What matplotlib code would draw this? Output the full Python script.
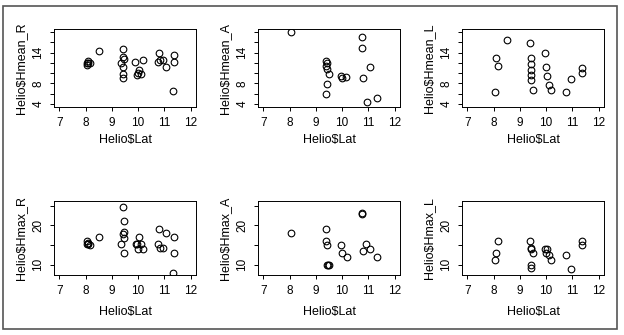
import matplotlib
matplotlib.use("Agg")
import matplotlib.pyplot as plt
from matplotlib.patches import Rectangle

plt.rcParams['font.family'] = ['Liberation Sans', 'DejaVu Sans']

# Helio$Hmean_* vs Helio$Lat
lat_mean_R = [8.05, 8.1, 8.15, 8.05, 8.1, 8.53, 9.42, 9.42, 9.45, 9.35, 9.42, 9.42, 9.42,
              9.89, 10.18, 10.05, 10.0, 9.95, 10.1, 10.78, 10.74, 10.84, 10.94, 11.05,
              11.35, 11.35, 11.33]
hmean_R = [11.5, 12.3, 11.9, 11.9, 12.0, 14.3, 14.6, 13.2, 12.7, 12.0, 11.2, 9.9, 9.0,
           12.2, 12.5, 10.6, 10.1, 9.6, 9.8, 13.9, 12.1, 12.5, 12.6, 11.2, 13.5, 12.2, 6.6]

lat_mean_A = [8.04, 10.77, 10.75, 11.05, 10.8, 10.95, 11.33, 9.4, 9.42, 9.4, 9.42, 9.5,
              9.43, 9.4, 9.94, 10.01, 10.16]
hmean_A = [17.9, 17.0, 14.9, 11.1, 9.0, 4.45, 5.2, 12.3, 11.9, 11.4, 10.9, 9.9, 7.9, 5.9,
           9.5, 9.1, 9.2]

lat_mean_L = [8.53, 8.08, 8.17, 8.04, 9.39, 9.43, 9.43, 9.42, 9.44, 9.42, 9.5, 9.95, 10.0,
              10.05, 10.1, 10.17, 10.74, 10.94, 11.35, 11.35]
hmean_L = [16.4, 13.0, 11.3, 6.3, 15.9, 13.0, 11.7, 10.6, 9.7, 8.6, 6.8, 13.9, 11.1, 9.4,
           7.7, 6.8, 6.3, 8.9, 11.0, 10.1]

# Helio$Hmax_* vs Helio$Lat
lat_max_R = [8.05, 8.1, 8.15, 8.05, 8.1, 8.53, 9.42, 9.45, 9.45, 9.42, 9.45, 9.35, 9.45,
             9.9, 9.97, 10.05, 10.1, 10.0, 10.18, 10.8, 11.05, 10.74, 10.84, 10.94, 11.35,
             11.35, 11.33]
hmax_R = [16.0, 15.6, 15.1, 15.2, 15.4, 17.0, 24.7, 21.1, 18.2, 17.9, 16.9, 15.2, 13.1,
          15.4, 15.3, 17.0, 15.3, 14.1, 14.1, 19.1, 18.1, 15.2, 14.2, 14.2, 17.0, 13.1, 8.0]

lat_max_A = [8.04, 10.76, 10.77, 9.4, 9.4, 9.43, 9.42, 9.47, 9.5, 9.95, 10.01, 10.19, 10.92,
             11.05, 10.8, 11.33]
hmax_A = [18.1, 23.1, 23.0, 19.0, 16.0, 15.0, 9.9, 9.9, 9.95, 15.1, 13.0, 12.0, 15.2, 14.1,
          13.5, 12.0]

lat_max_L = [8.17, 8.08, 8.04, 9.4, 9.43, 9.44, 9.5, 9.43, 9.43, 9.97, 10.05, 10.0, 10.1,
             10.18, 10.74, 10.94, 11.35, 11.35]
hmax_L = [16.0, 13.1, 11.1, 16.0, 14.2, 13.9, 13.1, 9.9, 9.1, 14.1, 13.9, 13.1, 12.5, 11.1,
          12.5, 8.9, 16.0, 14.9]

panels = [
    (lat_mean_R, hmean_R, "Helio$Hmean_R"),
    (lat_mean_A, hmean_A, "Helio$Hmean_A"),
    (lat_mean_L, hmean_L, "Helio$Hmean_L"),
    (lat_max_R, hmax_R, "Helio$Hmax_R"),
    (lat_max_A, hmax_A, "Helio$Hmax_A"),
    (lat_max_L, hmax_L, "Helio$Hmax_L"),
]

W, H = 624, 335
fig = plt.figure(figsize=(W / 100, H / 100), dpi=100)

lefts = [54, 258, 462]
width = 142
rows = [(29, 107), (201, 275)]  # top, bottom in pixels
xlab_y = [134, 306]             # top of x label text, pixels

for i, (x, y, name) in enumerate(panels):
    r, c = divmod(i, 3)
    top, bot = rows[r]
    ax = fig.add_axes([lefts[c] / W, 1 - bot / H, width / W, (bot - top) / H])
    ax.plot(x, y, 'o', mfc='none', mec='black', mew=0.8, ms=4.8)
    ax.set_xlim(6.8, 12.2)
    ax.set_xticks([7, 8, 9, 10, 11, 12])
    if r == 0:
        ax.set_ylim(3.44, 18.56)
        ax.set_yticks([4, 6, 8, 10, 12, 14, 16, 18])
        ax.set_yticklabels(['4', '', '8', '', '', '14', '', ''])
    else:
        ax.set_ylim(7.4, 26.2)
        ax.set_yticks([10, 15, 20, 25])
        ax.set_yticklabels(['10', '', '20', ''])
    for lab in ax.get_yticklabels():
        lab.set_rotation(90)
        lab.set_va('center')
    ax.tick_params(length=3, width=0.7, labelsize=8.5)
    ax.tick_params(axis='x', pad=4)
    ax.tick_params(axis='y', pad=4)
    for s in ax.spines.values():
        s.set_linewidth(0.7)
    ax.set_xlabel("Helio$Lat", fontsize=9)
    ax.set_ylabel(name, fontsize=9)
    ax.xaxis.set_label_coords(0.5, -(xlab_y[r] - bot) / (bot - top))
    ax.yaxis.set_label_coords(-0.19, 0.5)

fig.add_artist(Rectangle((3 / W, 1 - 329 / H), 614 / W, 323 / H, transform=fig.transFigure,
                         fill=False, edgecolor='#555555', linewidth=1.2))

fig.savefig("out.png", dpi=100)
